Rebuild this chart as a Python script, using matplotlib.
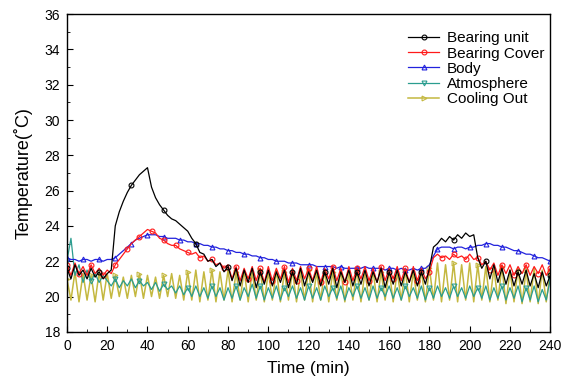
import numpy as np
import matplotlib
matplotlib.use("Agg")
import matplotlib.pyplot as plt
from matplotlib.ticker import MultipleLocator

# ── Data: temperatures sampled every 2 min ────────────────────────────────────
time_min = np.arange(0, 241, 2)

bearing_unit = [
    21.6, 21.0, 21.8, 21.2, 21.5, 21.0, 21.6, 21.1, 21.4, 21.0, 21.3,
    21.5, 24.0, 24.8, 25.4, 25.9, 26.3, 26.6, 26.9, 27.1, 27.3,
    26.2, 25.6, 25.2, 24.9, 24.6, 24.4, 24.3, 24.1, 23.9, 23.7,
    23.3, 23.0, 22.5, 22.4, 22.0, 22.1, 21.7, 21.9, 21.4, 21.7,
    20.9, 21.6, 20.6, 21.5, 20.8, 21.6, 20.5, 21.4, 20.7, 21.5,
    20.6, 21.4, 20.8, 21.5, 20.5, 21.4, 20.7, 21.6, 20.6, 21.4,
    20.8, 21.5, 20.6, 21.4, 20.7, 21.6, 20.5, 21.4, 20.8, 21.5,
    20.6, 21.4, 20.7, 21.5, 20.6, 21.4, 20.8, 21.6, 20.5, 21.4,
    20.7, 21.5, 20.6, 21.4, 20.8, 21.5, 20.6, 21.4, 20.7, 21.6,
    22.8, 23.0, 23.3, 23.1, 23.4, 23.2, 23.5, 23.3, 23.6, 23.4,
    23.5, 22.2, 21.6, 22.0, 21.0, 21.8, 20.8, 21.6, 20.7, 21.5,
    20.6, 21.4, 20.7, 21.5, 20.6, 21.3, 20.5, 21.4, 20.6, 21.2,
]

bearing_cover = [
    21.8, 21.2, 21.9, 21.3, 21.7, 21.2, 21.8, 21.3, 21.6, 21.2, 21.5,
    21.3, 21.8, 22.1, 22.4, 22.7, 23.0, 23.2, 23.4, 23.6, 23.8,
    23.7, 23.6, 23.3, 23.2, 23.0, 22.9, 22.9, 22.7, 22.6, 22.5,
    22.4, 22.5, 22.2, 22.3, 22.0, 22.1, 21.8, 21.9, 21.6, 21.8,
    21.0, 21.7, 20.9, 21.6, 21.0, 21.7, 20.9, 21.6, 20.8, 21.7,
    20.9, 21.6, 21.0, 21.7, 20.8, 21.6, 20.9, 21.7, 21.0, 21.6,
    20.9, 21.7, 20.8, 21.6, 21.0, 21.7, 20.9, 21.6, 20.8, 21.7,
    20.9, 21.6, 21.0, 21.7, 20.9, 21.6, 20.8, 21.7, 20.9, 21.6,
    21.0, 21.7, 20.9, 21.6, 20.8, 21.7, 20.9, 21.6, 21.0, 21.4,
    22.2, 22.4, 22.2, 22.3, 22.1, 22.4, 22.2, 22.3, 22.1, 22.4,
    22.1, 22.2, 21.8, 22.0, 21.5, 21.9, 21.2, 21.8, 21.3, 21.8,
    21.2, 21.7, 21.3, 21.8, 21.2, 21.7, 21.3, 21.8, 21.2, 21.6,
]

body = [
    22.2, 22.1, 22.1, 22.0, 22.1, 22.1, 22.0, 22.1, 22.1, 22.0, 22.1,
    22.1, 22.2, 22.4, 22.6, 22.8, 23.0, 23.2, 23.3, 23.4, 23.5,
    23.5, 23.5, 23.4, 23.4, 23.3, 23.3, 23.3, 23.2, 23.2, 23.1,
    23.1, 23.0, 23.0, 22.9, 22.9, 22.8, 22.8, 22.7, 22.7, 22.6,
    22.6, 22.5, 22.5, 22.4, 22.4, 22.3, 22.3, 22.2, 22.2, 22.1,
    22.1, 22.0, 22.0, 22.0, 21.9, 21.9, 21.9, 21.8, 21.8, 21.8,
    21.8, 21.7, 21.7, 21.7, 21.7, 21.7, 21.6, 21.7, 21.6, 21.6,
    21.6, 21.6, 21.6, 21.7, 21.6, 21.6, 21.6, 21.6, 21.5, 21.6,
    21.6, 21.5, 21.6, 21.5, 21.5, 21.6, 21.5, 21.6, 21.6, 21.8,
    22.3, 22.7, 22.8, 22.8, 22.8, 22.7, 22.8, 22.8, 22.7, 22.8,
    22.8, 22.9, 22.9, 23.0, 23.0, 22.9, 22.9, 22.8, 22.8, 22.7,
    22.6, 22.6, 22.5, 22.4, 22.4, 22.3, 22.2, 22.2, 22.1, 22.0,
]

atmosphere = [
    22.0, 23.3, 21.2, 21.8, 20.8, 21.5, 20.9, 21.3, 20.8, 21.2, 20.9,
    20.6, 21.0, 20.5, 20.9, 20.6, 21.0, 20.5, 20.9, 20.6, 20.8,
    20.4, 20.8, 20.3, 20.7, 20.4, 20.6, 20.2, 20.6, 20.1, 20.5,
    20.0, 20.6, 20.0, 20.5, 19.9, 20.6, 20.0, 20.5, 19.8, 20.5,
    19.9, 20.6, 19.8, 20.5, 20.0, 20.7, 19.9, 20.6, 19.8, 20.5,
    19.9, 20.6, 19.8, 20.5, 20.0, 20.6, 19.9, 20.5, 19.8, 20.6,
    19.9, 20.5, 19.8, 20.6, 20.0, 20.5, 19.9, 20.6, 19.8, 20.5,
    20.0, 20.6, 19.9, 20.5, 19.8, 20.6, 19.9, 20.5, 20.0, 20.6,
    19.9, 20.5, 19.8, 20.6, 20.0, 20.5, 19.9, 20.6, 19.8, 20.5,
    19.9, 20.6, 20.0, 20.5, 19.9, 20.6, 20.0, 20.5, 19.9, 20.6,
    20.0, 20.5, 19.9, 20.6, 19.8, 20.5, 19.9, 20.6, 19.8, 20.5,
    19.9, 20.6, 19.7, 20.5, 19.8, 20.6, 19.7, 20.4, 19.8, 21.0,
]

cooling_out = [
    21.0, 19.8, 21.4, 19.7, 21.3, 19.8, 21.2, 19.7, 21.4, 19.8, 21.3,
    19.9, 21.2, 20.0, 21.1, 19.9, 21.2, 20.0, 21.3, 19.9, 21.2,
    20.0, 21.1, 19.9, 21.2, 20.0, 21.3, 19.9, 21.2, 19.8, 21.4,
    19.8, 21.5, 19.7, 21.4, 19.8, 21.5, 19.7, 21.4, 19.8, 21.5,
    19.7, 21.4, 19.8, 21.5, 19.7, 21.4, 19.8, 21.5, 19.7, 21.4,
    19.8, 21.5, 19.7, 21.4, 19.8, 21.5, 19.7, 21.4, 19.8, 21.5,
    19.7, 21.4, 19.8, 21.5, 19.7, 21.4, 19.8, 21.5, 19.7, 21.4,
    19.8, 21.5, 19.7, 21.4, 19.8, 21.5, 19.7, 21.4, 19.8, 21.5,
    19.7, 21.4, 19.8, 21.5, 19.7, 21.4, 19.8, 21.5, 19.7, 21.6,
    19.8, 21.9, 19.7, 21.8, 19.8, 21.9, 19.7, 21.8, 19.8, 21.9,
    19.7, 21.8, 19.8, 21.7, 19.7, 21.6, 19.8, 21.7, 19.6, 21.5,
    19.7, 21.6, 19.6, 21.5, 19.7, 21.6, 19.6, 21.5, 19.7, 21.4,
]

# name, values, colour, marker, markevery, line width
series = [
    ("Bearing unit", bearing_unit, "black", "o", 8, 0.9),
    ("Bearing Cover", bearing_cover, "#ff1a1a", "o", 3, 0.9),
    ("Body", body, "#2222dd", "^", 4, 0.9),
    ("Atmosphere", atmosphere, "#2a9d8f", "v", 6, 0.9),
    ("Cooling Out", cooling_out, "#c4b840", ">", 6, 1.1),
]

# ── Plot ──────────────────────────────────────────────────────────────────────
plt.rcParams["font.family"] = "Liberation Sans"

fig = plt.figure(figsize=(5.72, 3.81), dpi=100)
ax = fig.add_axes([0.117, 0.129, 0.845, 0.834])

# draw back to front so the black curve stays on top
for name, vals, color, marker, every, lw in reversed(series):
    ax.plot(time_min, vals, color=color, lw=lw, marker=marker, ms=3.5,
            mfc="none", mew=0.8, markevery=every, label=name)

ax.set_xlim(0, 240)
ax.set_ylim(18, 36)
ax.xaxis.set_major_locator(MultipleLocator(20))
ax.xaxis.set_minor_locator(MultipleLocator(10))
ax.yaxis.set_major_locator(MultipleLocator(2))
ax.yaxis.set_minor_locator(MultipleLocator(1))
ax.tick_params(which="both", direction="in", labelsize=10)
ax.tick_params(which="major", length=4, pad=5)
ax.tick_params(which="minor", length=2)
for sp in ax.spines.values():
    sp.set_linewidth(1.0)

ax.set_xlabel("Time (min)", fontsize=12.5, labelpad=6)
ax.set_ylabel("Temperature(\u02daC)", fontsize=13, labelpad=8)

handles, labels = ax.get_legend_handles_labels()
ax.legend(handles[::-1], labels[::-1], loc="upper right", frameon=False,
          fontsize=11, handlelength=2.0, labelspacing=0.08,
          handletextpad=0.5, bbox_to_anchor=(1.0, 0.965), borderaxespad=0)

fig.savefig("out.png", dpi=100)
